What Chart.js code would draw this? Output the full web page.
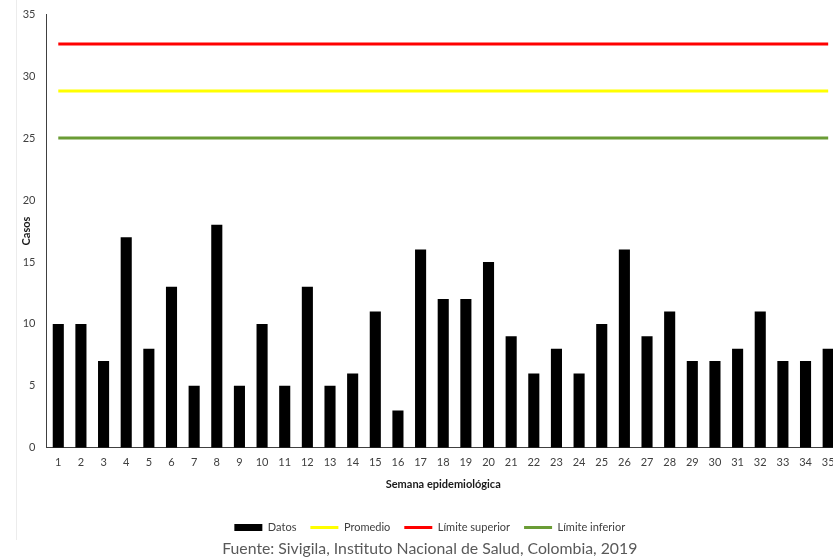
<!DOCTYPE html>
<html>
<head>
<meta charset="utf-8">
<script src="https://cdn.jsdelivr.net/npm/chart.js@4/dist/chart.umd.min.js"></script>
<style>
  html, body { margin: 0; padding: 0; background: #fff; overflow: hidden; width: 833px; height: 558px; }
  #wrap { position: relative; width: 852px; height: 558px; }
  #edge { position: absolute; left: 16px; top: 0; height: 540px; border-left: 1px solid #ececec; }
  canvas { display: block; }
</style>
</head>
<body>
<div id="wrap">
  <div id="edge"></div>
  <canvas id="chart" width="852" height="558"></canvas>
</div>
<script>
// Semanas epidemiológicas
const semanas = ['1','2','3','4','5','6','7','8','9','10','11','12','13','14','15','16','17','18',
                 '19','20','21','22','23','24','25','26','27','28','29','30','31','32','33','34','35'];

// Casos notificados por semana
const casos = [10, 10, 7, 17, 8, 13, 5, 18, 5, 10, 5, 13, 5, 6, 11, 3, 16, 12,
               12, 15, 9, 6, 8, 6, 10, 16, 9, 11, 7, 7, 8, 11, 7, 7, 8];

// Canal endémico: promedio y límites
const promedio = [28.8, 28.8, 28.8, 28.8, 28.8, 28.8, 28.8, 28.8, 28.8, 28.8, 28.8, 28.8,
                  28.8, 28.8, 28.8, 28.8, 28.8, 28.8, 28.8, 28.8, 28.8, 28.8, 28.8, 28.8,
                  28.8, 28.8, 28.8, 28.8, 28.8, 28.8, 28.8, 28.8, 28.8, 28.8, 28.8];
const limiteSuperior = [32.6, 32.6, 32.6, 32.6, 32.6, 32.6, 32.6, 32.6, 32.6, 32.6, 32.6, 32.6,
                        32.6, 32.6, 32.6, 32.6, 32.6, 32.6, 32.6, 32.6, 32.6, 32.6, 32.6, 32.6,
                        32.6, 32.6, 32.6, 32.6, 32.6, 32.6, 32.6, 32.6, 32.6, 32.6, 32.6];
const limiteInferior = [25, 25, 25, 25, 25, 25, 25, 25, 25, 25, 25, 25,
                        25, 25, 25, 25, 25, 25, 25, 25, 25, 25, 25, 25,
                        25, 25, 25, 25, 25, 25, 25, 25, 25, 25, 25];

// Eje Y
const yMin = 0;
const yMax = 35;
const yPaso = 5;

const fuente = 'Fuente: Sivigila, Instituto Nacional de Salud, Colombia, 2019';

const lineaBase = { type: 'line', fill: false, borderWidth: 3, pointRadius: 0, pointHoverRadius: 0, tension: 0, pointStyle: 'line' };

new Chart(document.getElementById('chart'), {
  type: 'bar',
  data: {
    labels: semanas,
    datasets: [
      { label: 'Datos', data: casos, backgroundColor: '#000000', borderWidth: 0,
        barPercentage: 0.49, categoryPercentage: 1, pointStyle: 'rect' },
      Object.assign({}, lineaBase, { label: 'Promedio', data: promedio, borderColor: '#FFFF00', backgroundColor: '#FFFF00' }),
      Object.assign({}, lineaBase, { label: 'Límite superior', data: limiteSuperior, borderColor: '#FF0000', backgroundColor: '#FF0000' }),
      Object.assign({}, lineaBase, { label: 'Límite inferior', data: limiteInferior, borderColor: '#6A9C35', backgroundColor: '#6A9C35' })
    ]
  },
  options: {
    responsive: false,
    animation: false,
    layout: { padding: { left: 20, right: 12.5, top: 10, bottom: 0 } },
    scales: {
      x: {
        offset: true,
        grid: { display: false, drawTicks: false },
        border: { display: true, color: '#404040', width: 1 },
        ticks: { color: '#404040', font: { family: 'Lato', size: 11 }, padding: 8, autoSkip: false, maxRotation: 0 },
        title: { display: true, text: 'Semana epidemiológica', color: '#1a1a1a',
                 font: { family: 'Lato', size: 11, weight: 'bold' }, padding: { top: 1, bottom: 16.9 } }
      },
      y: {
        min: yMin, max: yMax,
        grid: { display: false, drawTicks: false },
        border: { display: true, color: '#404040', width: 1 },
        ticks: { stepSize: yPaso, color: '#404040', font: { family: 'Lato', size: 11, lineHeight: 0.5 }, padding: 11.5 },
        title: { display: true, text: 'Casos', color: '#1a1a1a',
                 font: { family: 'Lato', size: 11, weight: 'bold' }, padding: { top: 0, bottom: -22 } }
      }
    },
    plugins: {
      legend: {
        position: 'bottom',
        labels: {
          usePointStyle: true, pointStyleWidth: 28, boxHeight: 7, padding: 14,
          color: '#404040', font: { family: 'Lato', size: 11 },
          generateLabels(chart) {
            const items = Chart.defaults.plugins.legend.labels.generateLabels(chart);
            items.forEach((it) => {
              const ds = chart.data.datasets[it.datasetIndex];
              it.pointStyle = ds.pointStyle;
              if (ds.type === 'line') { it.lineWidth = 3; it.strokeStyle = ds.borderColor; }
              else { it.lineWidth = 0; it.fillStyle = ds.backgroundColor; }
            });
            return items;
          }
        }
      },
      title: {
        display: true, position: 'bottom', text: fuente, color: '#595959',
        font: { family: 'Lato', size: 15.8, weight: 'normal' }, padding: { top: -4, bottom: 0 }
      },
      tooltip: { enabled: false }
    }
  }
});
</script>
</body>
</html>
